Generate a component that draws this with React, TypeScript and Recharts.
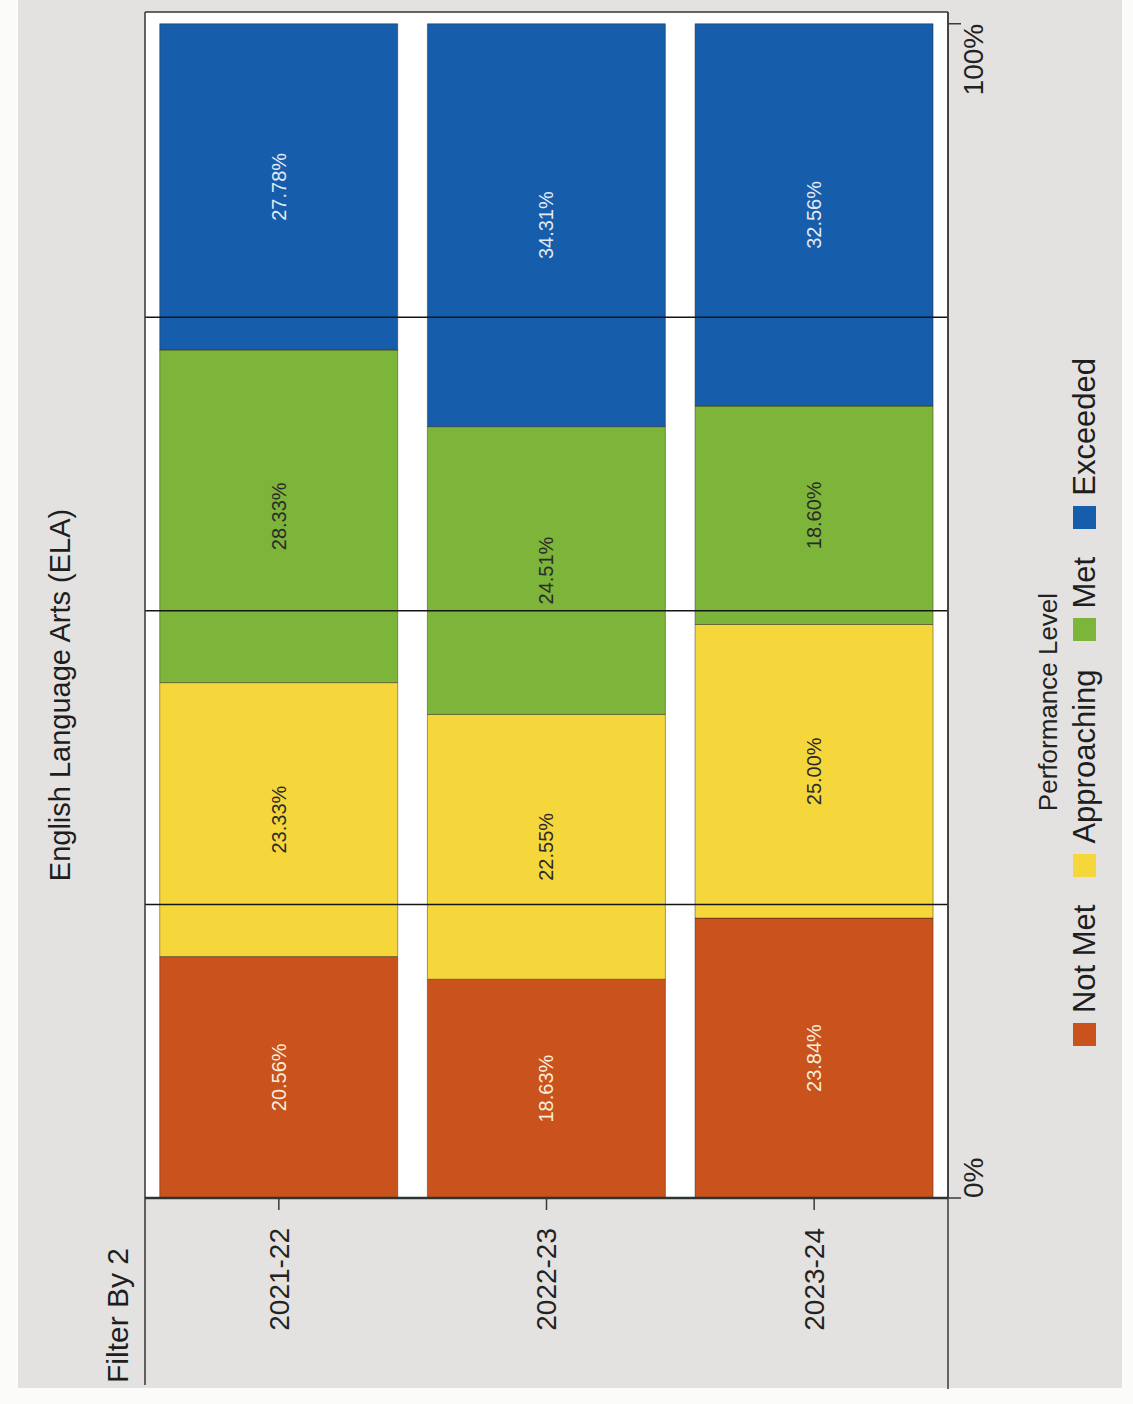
import { BarChart, Bar, XAxis, YAxis, CartesianGrid, ReferenceLine, LabelList } from 'recharts';

// values (percent of students per performance level)
const years = ['2021-22', '2022-23', '2023-24'];
const notMet = [20.56, 18.63, 23.84];
const approaching = [23.33, 22.55, 25.0];
const met = [28.33, 24.51, 18.6];
const exceeded = [27.78, 34.31, 32.56];

const levels = ['Not Met', 'Approaching', 'Met', 'Exceeded'];
const levelKeys = ['notMet', 'approaching', 'met', 'exceeded'];
const COLORS = ['#c9521d', '#f6d73b', '#7db43a', '#165dab'];
const LABEL_COLORS = ['#f8eedb', '#2b2b2b', '#2b2b2b', '#e3eaf4'];
const xTicks = [0, 100];
const gridMarks = [25, 50, 75];

const data = years.map((year, i) => ({
  year,
  notMet: notMet[i],
  approaching: approaching[i],
  met: met[i],
  exceeded: exceeded[i],
}));

// the printed chart is photographed turned a quarter turn, so it is drawn flat and rotated
const W = 1404;
const H = 1133;
const PLOT_TOP = 145;
const PLOT_BOTTOM = 948;
const FRAME_LEFT = 19;
const PLOT_RIGHT = 1392;
const Y_AXIS_W = 187;
const X_AXIS_H = 40;
const FONT = '"Liberation Sans", Arial, sans-serif';

const XTick = (props: any) => {
  const { x, y, payload } = props;
  return (
    <text x={x} y={y} dy="0.71em" textAnchor={payload.value === 0 ? 'start' : 'end'} fontSize={28} fill="#222">
      {payload.value}%
    </text>
  );
};

export default function App() {
  return (
    <div style={{ position: 'absolute', left: 0, top: 0, width: 1133, height: 1404, background: '#fbfbfa', overflow: 'hidden', fontFamily: FONT }}>
      <div style={{ position: 'absolute', left: 18, top: 0, width: 1104, height: 1388, background: '#e4e2e0' }} />
      <div
        style={{
          position: 'absolute', left: 0, top: 0, width: W, height: H,
          transformOrigin: '0 0', transform: `translate(0px, ${W}px) rotate(-90deg)`,
        }}
      >
        <div style={{ position: 'absolute', left: 0, top: 46, width: W, paddingLeft: 14, boxSizing: 'border-box', textAlign: 'center', fontSize: 29, lineHeight: '29px', color: '#1e1e1e' }}>
          English Language Arts (ELA)
        </div>
        <div style={{ position: 'absolute', left: 21, top: 103, fontSize: 30, lineHeight: '30px', color: '#1e1e1e' }}>Filter By 2</div>

        <BarChart
          width={W}
          height={H}
          data={data}
          layout="vertical"
          barCategoryGap="5.5%"
          margin={{ top: PLOT_TOP, right: W - PLOT_RIGHT, bottom: H - PLOT_BOTTOM - X_AXIS_H, left: FRAME_LEFT }}
        >
          <CartesianGrid fill="#ffffff" horizontal={false} vertical={false} />
          <XAxis
            type="number"
            domain={[0, 101]}
            ticks={xTicks}
            height={X_AXIS_H}
            tick={<XTick />}
            tickSize={13}
            tickMargin={2}
            axisLine={{ stroke: '#3a3a3a', strokeWidth: 1.5 }}
            tickLine={{ stroke: '#3a3a3a', strokeWidth: 1.5 }}
          />
          <YAxis
            type="category"
            dataKey="year"
            width={Y_AXIS_W}
            tickSize={12}
            tickMargin={18}
            tick={{ fontSize: 28, fill: '#222' }}
            axisLine={{ stroke: '#2c3434', strokeWidth: 2.5 }}
            tickLine={{ stroke: '#3a3a3a', strokeWidth: 1.5 }}
          />
          {levelKeys.map((key, i) => (
            <Bar
              key={key}
              dataKey={key}
              name={levels[i]}
              stackId="a"
              fill={COLORS[i]}
              stroke="rgba(50,35,25,0.45)"
              strokeWidth={1}
              isAnimationActive={false}
            >
              <LabelList
                dataKey={key}
                position="center"
                formatter={(v: any) => `${Number(v).toFixed(2)}%`}
                fill={LABEL_COLORS[i]}
                fontSize={20}
              />
            </Bar>
          ))}
          {gridMarks.map((g) => (
            <ReferenceLine key={g} x={g} stroke="#151515" strokeWidth={1.5} />
          ))}
          <ReferenceLine x={101} stroke="#333" strokeWidth={1.5} />
        </BarChart>

        <svg width={W} height={H} style={{ position: 'absolute', left: 0, top: 0, pointerEvents: 'none' }}>
          <line x1={FRAME_LEFT} x2={PLOT_RIGHT} y1={PLOT_TOP} y2={PLOT_TOP} stroke="#333" strokeWidth={1.5} />
          <line x1={FRAME_LEFT - 4} x2={PLOT_RIGHT} y1={PLOT_BOTTOM} y2={PLOT_BOTTOM} stroke="#3a3a3a" strokeWidth={1.5} />
        </svg>

        <div style={{ position: 'absolute', left: 0, top: 1035, width: W, textAlign: 'center', fontSize: 26, lineHeight: '26px', color: '#222' }}>
          Performance Level
        </div>
        <div style={{ position: 'absolute', left: 0, top: 1069, width: W, display: 'flex', justifyContent: 'center', gap: 28, fontSize: 31, lineHeight: '31px', color: '#1e1e1e' }}>
          {levels.map((name, i) => (
            <div key={name} style={{ display: 'flex', alignItems: 'center', gap: 10 }}>
              <span style={{ display: 'inline-block', width: 23, height: 23, background: COLORS[i] }} />
              <span>{name}</span>
            </div>
          ))}
        </div>
      </div>
    </div>
  );
}
